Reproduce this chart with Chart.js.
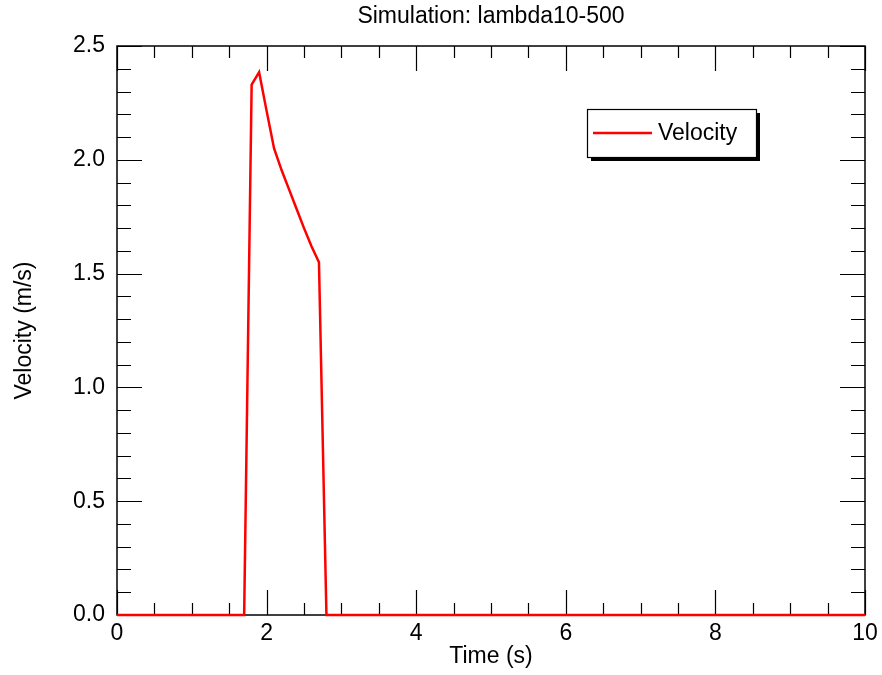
<!DOCTYPE html>
<html>
<head>
<meta charset="utf-8">
<script src="https://cdn.jsdelivr.net/npm/chart.js@4"></script>
<style>
  html, body { margin: 0; padding: 0; background: #fff; }
  #wrap { width: 882px; height: 675px; }
</style>
</head>
<body>
<div id="wrap"><canvas id="velChart" width="882" height="675"></canvas></div>
<script>
// values
var times = [0, 0.5, 1.0, 1.5, 1.7, 1.8, 1.9, 2.0, 2.1, 2.2, 2.3, 2.4, 2.5, 2.6, 2.7, 2.8, 3.0, 4.0, 6.0, 8.0, 10.0];
var velocity = [0, 0, 0, 0, 0, 2.33, 2.385, 2.215, 2.05, 1.955, 1.87, 1.785, 1.70, 1.62, 1.55, 0, 0, 0, 0, 0, 0];
var xTicks = [0, 2, 4, 6, 8, 10];
var yTicks = [0.0, 0.5, 1.0, 1.5, 2.0, 2.5];

var fontName = "'Liberation Sans', Arial, Helvetica, sans-serif";
var fontSize = 23;

let points = times.map((t, i) => ({x: t, y: velocity[i]}))

// frame + inward ticks on all four sides, like the original plot
const frameTicks = {
  id: "frameTicks",
  beforeDatasetsDraw(chart) {
    const ctx = chart.ctx
    const a = chart.chartArea
    const xs = chart.scales.x, ys = chart.scales.y
    ctx.save()
    ctx.strokeStyle = "#000"
    ctx.lineWidth = 1.5
    ctx.strokeRect(a.left, a.top, a.right - a.left, a.bottom - a.top)
    ctx.lineWidth = 1.2
    ctx.beginPath()
    for (let k = 0; k <= 20; k++) {
      let v = k / 2
      let px = Math.round(xs.getPixelForValue(v)) + 0.5
      let len = (k % 4 === 0) ? 25 : 12
      ctx.moveTo(px, a.bottom); ctx.lineTo(px, a.bottom - len)
      ctx.moveTo(px, a.top); ctx.lineTo(px, a.top + len)
    }
    for (let k = 0; k <= 25; k++) {
      let v = k / 10
      let py = Math.round(ys.getPixelForValue(v)) + 0.5
      let len = (k % 5 === 0) ? 25 : 14
      ctx.moveTo(a.left, py); ctx.lineTo(a.left + len, py)
      ctx.moveTo(a.right, py); ctx.lineTo(a.right - len, py)
    }
    ctx.stroke()
    ctx.restore()
  },
  afterDraw(chart) {
    // legend box with drop shadow
    const ctx = chart.ctx
    const bx = 587, by = 109, bw = 169, bh = 48
    ctx.save()
    ctx.fillStyle = "#000"
    ctx.fillRect(bx + 4, by + 4, bw, bh)
    ctx.fillStyle = "#fff"
    ctx.fillRect(bx, by, bw, bh)
    ctx.strokeStyle = "#000"
    ctx.lineWidth = 1.2
    ctx.strokeRect(bx + 0.5, by + 0.5, bw, bh)
    ctx.strokeStyle = "#ff0000"
    ctx.lineWidth = 2.5
    ctx.beginPath()
    ctx.moveTo(593, 133); ctx.lineTo(652, 133)
    ctx.stroke()
    ctx.fillStyle = "#000"
    ctx.font = fontSize + "px " + fontName
    ctx.textBaseline = "middle"
    ctx.fillText(chart.data.datasets[0].label, 658, 134)
    ctx.restore()
  }
}

new Chart("velChart", {
  type: "line",
  data: {
    datasets: [{
      label: "Velocity",
      data: points,
      borderColor: "#ff0000",
      borderWidth: 2.5,
      pointRadius: 0,
      tension: 0,
      clip: false
    }]
  },
  options: {
    responsive: false,
    animation: false,
    layout: { padding: { top: 0, right: 17, left: 0, bottom: 0 } },
    plugins: {
      legend: { display: false },
      tooltip: { enabled: false },
      title: {
        display: true,
        fullSize: false,
        text: "Simulation: lambda10-500",
        color: "#000",
        font: { family: fontName, size: fontSize, weight: "normal" },
        padding: { top: 3, bottom: 15.4 }
      }
    },
    scales: {
      x: {
        type: "linear",
        min: 0, max: 10,
        afterBuildTicks: (s) => { s.ticks = xTicks.map(v => ({value: v})) },
        afterFit: (s) => { s.height = 60; s.paddingLeft = 0; s.paddingRight = 0 },
        grid: { display: false, drawTicks: false },
        border: { display: false },
        ticks: {
          color: "#000",
          padding: 5,
          maxRotation: 0,
          font: { family: fontName, size: fontSize },
          callback: (v) => String(v)
        },
        title: {
          display: true,
          text: "Time (s)",
          color: "#000",
          padding: { top: 0, bottom: 5 },
          font: { family: fontName, size: fontSize }
        }
      },
      y: {
        type: "linear",
        min: 0, max: 2.5,
        afterBuildTicks: (s) => { s.ticks = yTicks.map(v => ({value: v})) },
        afterFit: (s) => { s.width = 117; s.paddingTop = 0; s.paddingBottom = 0 },
        grid: { display: false, drawTicks: false },
        border: { display: false },
        ticks: {
          color: "#000",
          padding: 12,
          font: { family: fontName, size: fontSize },
          callback: (v) => Number(v).toFixed(1)
        },
        title: {
          display: true,
          text: "Velocity (m/s)",
          color: "#000",
          padding: { top: 11, bottom: 0 },
          font: { family: fontName, size: fontSize }
        }
      }
    }
  },
  plugins: [frameTicks]
})
</script>
</body>
</html>
